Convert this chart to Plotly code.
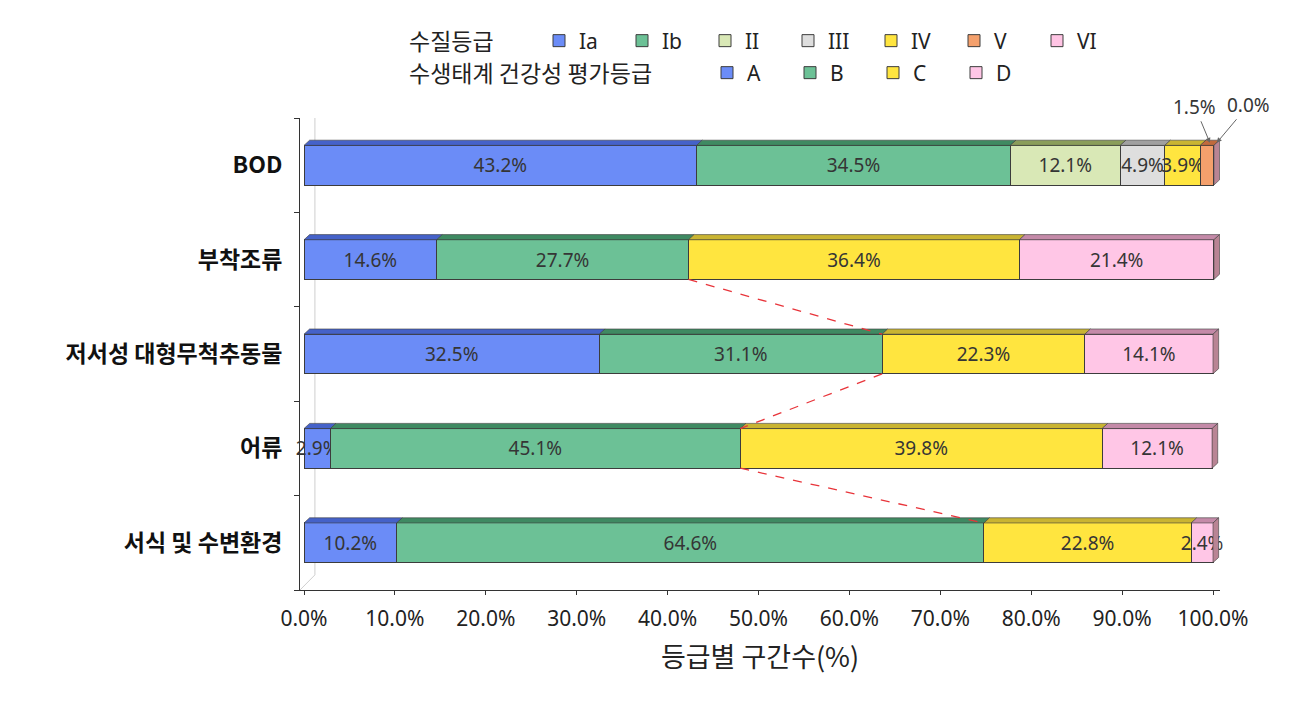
import plotly.graph_objects as go

# ---------------- data ----------------
categories = ["BOD", "부착조류", "저서성 대형무척추동물", "어류", "서식 및 수변환경"]

wq_grades = ["Ia", "Ib", "II", "III", "IV", "V", "VI"]
bod_values = [43.2, 34.5, 12.1, 4.9, 3.9, 1.5, 0.0]

health_grades = ["A", "B", "C", "D"]
health_categories = ["부착조류", "저서성 대형무척추동물", "어류", "서식 및 수변환경"]
grade_A = [14.6, 32.5, 2.9, 10.2]
grade_B = [27.7, 31.1, 45.1, 64.6]
grade_C = [36.4, 22.3, 39.8, 22.8]
grade_D = [21.4, 14.1, 12.1, 2.4]

x_tick_values = [0, 10, 20, 30, 40, 50, 60, 70, 80, 90, 100]

# ---------------- styles ----------------
wq_colors = ["#6b8cf7", "#6cc196", "#d9e8b6", "#dedede", "#ffe53f", "#f4a06c", "#ffc4e4"]
wq_top = ["#4562c9", "#3f8a62", "#8a9d5a", "#a0a0a0", "#c9b432", "#c06a3c", "#c48aa8"]
h_colors = ["#6b8cf7", "#6cc196", "#ffe53f", "#ffc6e6"]
h_top = ["#4562c9", "#3f8a62", "#c9b432", "#c48aa8"]

ypos = {c: len(categories) - 1 - i for i, c in enumerate(categories)}
W = 0.42      # bar thickness (category units)
DX = 0.62     # 3D depth in x (data units)
DY = 0.055    # 3D depth in y (category units)
TXT = dict(family="Noto Sans", size=19, color="#353535")
KR = "Noto Sans CJK KR"

# page body has an 8px default margin: plot area 300..1220 x 118..590 in the shot
L, T, PW, PH = 292, 110, 920, 472
FW, FH = 1312, 712

def px(xpix):
    return (xpix - 8 - L) / PW

def py(ypix):
    return (T + PH - (ypix - 8)) / PH

fig = go.Figure()

# water-quality grades (BOD row)
for g, v, col in zip(wq_grades, bod_values, wq_colors):
    fig.add_trace(go.Bar(
        name=g, x=[v], y=[ypos["BOD"]], orientation="h", width=W,
        marker=dict(color=col, line=dict(color="#3c3c3c", width=1)),
        text=[f"{v:.1f}%" if v >= 3 else ""], textposition="inside",
        insidetextanchor="middle", constraintext="none", textangle=0, cliponaxis=False,
        insidetextfont=TXT, legend="legend", hoverinfo="x+name"))

# ecosystem health grades
hvals = [grade_A, grade_B, grade_C, grade_D]
for g, vals, col in zip(health_grades, hvals, h_colors):
    fig.add_trace(go.Bar(
        name=g, x=vals, y=[ypos[c] for c in health_categories], orientation="h", width=W,
        marker=dict(color=col, line=dict(color="#3c3c3c", width=1)),
        text=[f"{v:.1f}%" for v in vals], textposition="inside",
        insidetextanchor="middle", constraintext="none", textangle=0, cliponaxis=False,
        insidetextfont=TXT, legend="legend2", hoverinfo="x+name"))

shapes = []

# 3D back wall lines
shapes.append(dict(type="line", xref="x", yref="y", x0=1.2, x1=1.2, y0=-0.34, y1=4.5,
                   line=dict(color="#cfcfcf", width=1), layer="below"))
shapes.append(dict(type="line", xref="x", yref="y", x0=-0.44, x1=1.2, y0=-0.5, y1=-0.34,
                   line=dict(color="#cfcfcf", width=1), layer="below"))

def add_faces(yc, vals, tops):
    cum = 0.0
    top = yc + W / 2
    bot = yc - W / 2
    for v, tc in zip(vals, tops):
        x0, x1 = cum, cum + v
        if v > 0:
            shapes.append(dict(
                type="path", xref="x", yref="y", layer="above",
                path=f"M{x0},{top} L{x0+DX},{top+DY} L{x1+DX},{top+DY} L{x1},{top} Z",
                fillcolor=tc, line=dict(color="#3c3c3c", width=0.6)))
        cum = x1
    shapes.append(dict(
        type="path", xref="x", yref="y", layer="above",
        path=f"M{cum},{bot} L{cum+DX},{bot+DY} L{cum+DX},{top+DY} L{cum},{top} Z",
        fillcolor="#b98494", line=dict(color="#3c3c3c", width=0.6)))

add_faces(ypos["BOD"], bod_values, wq_top)
for i, c in enumerate(health_categories):
    add_faces(ypos[c], [grade_A[i], grade_B[i], grade_C[i], grade_D[i]], h_top)

# series lines (cumulative A+B)
cumAB = [a + b for a, b in zip(grade_A, grade_B)]
for i in range(len(health_categories) - 1):
    y0 = ypos[health_categories[i]] - W / 2
    y1 = ypos[health_categories[i + 1]] + W / 2
    shapes.append(dict(type="line", xref="x", yref="y", x0=cumAB[i], y0=y0,
                       x1=cumAB[i + 1], y1=y1, layer="above",
                       line=dict(color="#e8343a", width=1.3, dash="dash")))

annotations = []
# callouts for small BOD segments
cum_bod = [sum(bod_values[:k]) for k in range(len(bod_values) + 1)]
for k, (ax, ay) in zip([5, 6], [(-15, -36), (32, -38)]):
    v = bod_values[k]
    xc = (cum_bod[k] + cum_bod[k + 1]) / 2 + DX * 0.5
    annotations.append(dict(
        x=xc, y=ypos["BOD"] + W / 2 + DY * 0.5, xref="x", yref="y",
        text=f"{v:.1f}%", showarrow=True, ax=ax, ay=ay, arrowhead=2, arrowsize=1,
        arrowwidth=1, arrowcolor="#666666", font=TXT))

# legend row headers
hdr = dict(family=KR, size=23, color="#222")
annotations.append(dict(text="수질등급", xref="paper", yref="paper", x=px(408),
                        y=py(40), xanchor="left", yanchor="middle", showarrow=False,
                        font=hdr, borderpad=0))
annotations.append(dict(text="수생태계 건강성 평가등급", xref="paper", yref="paper",
                        x=px(408), y=py(72), xanchor="left",
                        yanchor="middle", showarrow=False, font=hdr, borderpad=0))

legfont = dict(family="Noto Sans", size=21, color="#222")
fig.update_layout(
    width=FW, height=FH,
    margin=dict(l=L, r=FW - L - PW, t=T, b=FH - T - PH, autoexpand=False),
    paper_bgcolor="white", plot_bgcolor="white",
    barmode="stack", bargap=0.58,
    shapes=shapes, annotations=annotations,
    legend=dict(orientation="h", x=px(539), y=py(41),
                xanchor="left", yanchor="middle", font=legfont,
                entrywidth=38, entrywidthmode="pixels", traceorder="normal",
                bgcolor="rgba(0,0,0,0)", itemclick=False),
    legend2=dict(orientation="h", x=px(707), y=py(73),
                 xanchor="left", yanchor="middle", font=legfont,
                 entrywidth=38, entrywidthmode="pixels", traceorder="normal",
                 bgcolor="rgba(0,0,0,0)", itemclick=False),
    xaxis=dict(range=[-0.44, 100.77], tickvals=x_tick_values,
               ticktext=[f"{v:.1f}%" for v in x_tick_values],
               showline=True, linecolor="#333", linewidth=1,
               ticks="outside", ticklen=4, tickcolor="#333", ticklabelstandoff=6,
               showgrid=False, zeroline=False,
               tickfont=dict(family="Noto Sans", size=21, color="#222"),
               title=dict(text="등급별 구간수(%)", standoff=16,
                          font=dict(family=KR, size=27, color="#222"))),
    yaxis=dict(range=[-0.5, 4.5], tickvals=[ypos[c] for c in categories],
               ticktext=categories, ticks="", showline=True, linecolor="#333",
               linewidth=1, showgrid=False, zeroline=False, ticklabelstandoff=12,
               minor=dict(tickvals=[-0.5, 0.5, 1.5, 2.5, 3.5, 4.5], ticks="outside",
                          ticklen=5, tickcolor="#333"),
               tickfont=dict(family=KR, size=23, color="#111", weight="bold")),
)

fig.write_html("out.html")
